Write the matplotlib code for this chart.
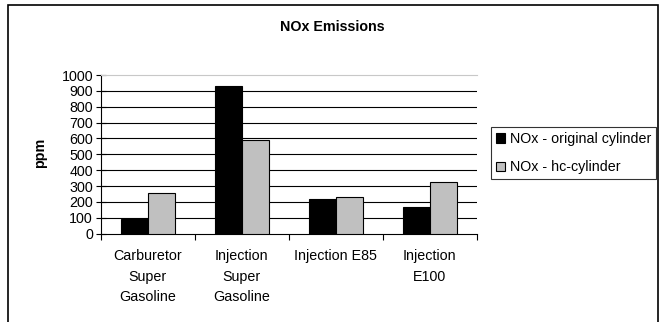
import numpy as np
import matplotlib
matplotlib.use('Agg')
import matplotlib.pyplot as plt
from matplotlib.patches import Rectangle

##### data #####
categories = ['Carburetor\nSuper\nGasoline', 'Injection\nSuper\nGasoline',
              'Injection E85', 'Injection\nE100']
nox_original = [90, 933, 217, 167]
nox_hc = [256, 590, 233, 324]
series_names = ['NOx - original cylinder', 'NOx - hc-cylinder']
yticks = [0, 100, 200, 300, 400, 500, 600, 700, 800, 900, 1000]

plt.rcParams['font.family'] = ['Liberation Sans', 'DejaVu Sans']
plt.rcParams['font.size'] = 10.3

W, H = 664, 322
fig = plt.figure(figsize=(W / 100, H / 100), dpi=100)
fig.patch.set_facecolor('white')

# outer chart frame (bottom runs off the image)
fig.patches.append(Rectangle((8 / W, -0.1), (658 - 8) / W, 1.1 - 5 / H,
                             transform=fig.transFigure, fill=False,
                             edgecolor='black', linewidth=1.2))

ax = fig.add_axes([100.7 / W, 1 - 233.7 / H, 376 / W, 158.7 / H])

x = np.arange(len(categories))
w = 1 / 3.5
b1 = ax.bar(x - w / 2, nox_original, w, color='black', edgecolor='black',
            linewidth=0.8, label=series_names[0], zorder=3)
b2 = ax.bar(x + w / 2, nox_hc, w, color='#c0c0c0', edgecolor='black',
            linewidth=0.8, label=series_names[1], zorder=3)

ax.set_xlim(-0.5, len(categories) - 0.5)
ax.set_ylim(0, 1000)
ax.set_yticks(yticks)
for v in yticks[1:-1]:
    ax.axhline(v, color='black', linewidth=0.8, zorder=1)
ax.tick_params(axis='y', direction='inout', length=7, width=0.8, pad=2)

# boundary ticks on the category axis, labels centered between them
ax.set_xticks(np.arange(-0.5, len(categories)), labels=[''] * (len(categories) + 1))
ax.set_xticks(x, labels=categories, minor=True)
ax.tick_params(axis='x', which='major', direction='out', length=4, width=0.8)
ax.tick_params(axis='x', which='minor', length=0, pad=11)
for lab in ax.get_xticklabels(minor=True):
    lab.set_linespacing(1.6)
    lab.set_verticalalignment('top')

ax.spines['right'].set_visible(False)
ax.spines['top'].set_color('#c8c8c8')
ax.spines['left'].set_linewidth(0.8)
ax.spines['bottom'].set_linewidth(0.8)

ax.set_ylabel('ppm', fontweight='bold')
ax.yaxis.set_label_coords(-0.143, 0.51)

fig.text(0.5, 1 - 27 / H, 'NOx Emissions', ha='center', va='center',
         fontweight='bold')

leg = fig.legend(handles=[b1, b2], loc='upper left',
                 bbox_to_anchor=(491 / W, 1 - 127 / H),
                 frameon=True, fancybox=False, edgecolor='black',
                 handlelength=0.6, handleheight=0.6, handletextpad=0.35,
                 borderpad=0.35, labelspacing=1.0, borderaxespad=0)
leg.get_frame().set_linewidth(0.8)

fig.savefig('out.png', dpi=100)
